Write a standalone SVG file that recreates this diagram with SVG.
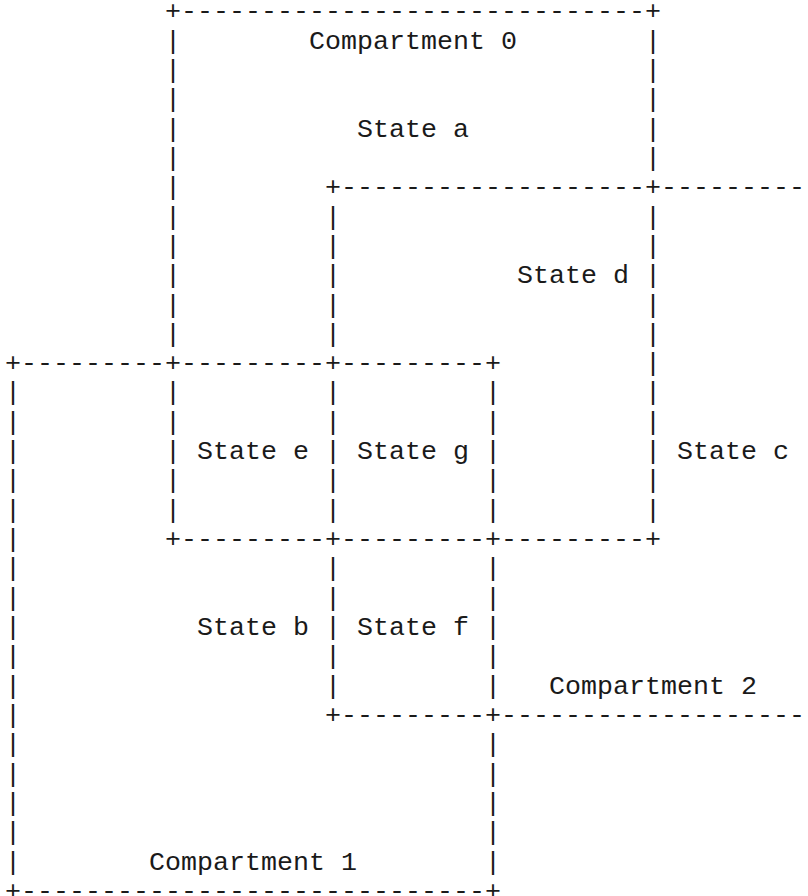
<svg xmlns="http://www.w3.org/2000/svg" width="808" height="896" viewBox="0 0 808 896">
<style>
text{font-family:"Liberation Mono","Courier New",monospace;font-size:26.67px;fill:#1a1a1a;white-space:pre}
</style>
<rect x="0" y="0" width="808" height="896" fill="#ffffff"/>
<g id="borders">
<text y="19.2"><tspan x="165">+---------</tspan><tspan x="325">----------</tspan><tspan x="485">----------</tspan><tspan x="645">+</tspan></text>
<text y="48.53"><tspan x="165">|</tspan><tspan x="645">|</tspan></text>
<text y="77.86"><tspan x="165">|</tspan><tspan x="645">|</tspan></text>
<text y="107.19"><tspan x="165">|</tspan><tspan x="645">|</tspan></text>
<text y="136.52"><tspan x="165">|</tspan><tspan x="645">|</tspan></text>
<text y="165.85"><tspan x="165">|</tspan><tspan x="645">|</tspan></text>
<text y="195.18"><tspan x="165">|</tspan><tspan x="325">+---------</tspan><tspan x="485">----------</tspan><tspan x="645">+---------</tspan><tspan x="805">-</tspan></text>
<text y="224.51"><tspan x="165">|</tspan><tspan x="325">|</tspan><tspan x="645">|</tspan></text>
<text y="253.84"><tspan x="165">|</tspan><tspan x="325">|</tspan><tspan x="645">|</tspan></text>
<text y="283.17"><tspan x="165">|</tspan><tspan x="325">|</tspan><tspan x="645">|</tspan></text>
<text y="312.5"><tspan x="165">|</tspan><tspan x="325">|</tspan><tspan x="645">|</tspan></text>
<text y="341.83"><tspan x="165">|</tspan><tspan x="325">|</tspan><tspan x="645">|</tspan></text>
<text y="371.16"><tspan x="5">+---------</tspan><tspan x="165">+---------</tspan><tspan x="325">+---------</tspan><tspan x="485">+</tspan><tspan x="645">|</tspan></text>
<text y="400.49"><tspan x="5">|</tspan><tspan x="165">|</tspan><tspan x="325">|</tspan><tspan x="485">|</tspan><tspan x="645">|</tspan></text>
<text y="429.82"><tspan x="5">|</tspan><tspan x="165">|</tspan><tspan x="325">|</tspan><tspan x="485">|</tspan><tspan x="645">|</tspan></text>
<text y="459.15"><tspan x="5">|</tspan><tspan x="165">|</tspan><tspan x="325">|</tspan><tspan x="485">|</tspan><tspan x="645">|</tspan></text>
<text y="488.48"><tspan x="5">|</tspan><tspan x="165">|</tspan><tspan x="325">|</tspan><tspan x="485">|</tspan><tspan x="645">|</tspan></text>
<text y="517.81"><tspan x="5">|</tspan><tspan x="165">|</tspan><tspan x="325">|</tspan><tspan x="485">|</tspan><tspan x="645">|</tspan></text>
<text y="547.14"><tspan x="5">|</tspan><tspan x="165">+---------</tspan><tspan x="325">+---------</tspan><tspan x="485">+---------</tspan><tspan x="645">+</tspan></text>
<text y="576.47"><tspan x="5">|</tspan><tspan x="325">|</tspan><tspan x="485">|</tspan></text>
<text y="605.8"><tspan x="5">|</tspan><tspan x="325">|</tspan><tspan x="485">|</tspan></text>
<text y="635.13"><tspan x="5">|</tspan><tspan x="325">|</tspan><tspan x="485">|</tspan></text>
<text y="664.46"><tspan x="5">|</tspan><tspan x="325">|</tspan><tspan x="485">|</tspan></text>
<text y="693.79"><tspan x="5">|</tspan><tspan x="325">|</tspan><tspan x="485">|</tspan></text>
<text y="723.12"><tspan x="5">|</tspan><tspan x="325">+---------</tspan><tspan x="485">+---------</tspan><tspan x="645">----------</tspan><tspan x="805">-</tspan></text>
<text y="752.45"><tspan x="5">|</tspan><tspan x="485">|</tspan></text>
<text y="781.78"><tspan x="5">|</tspan><tspan x="485">|</tspan></text>
<text y="811.11"><tspan x="5">|</tspan><tspan x="485">|</tspan></text>
<text y="840.44"><tspan x="5">|</tspan><tspan x="485">|</tspan></text>
<text y="869.77"><tspan x="5">|</tspan><tspan x="485">|</tspan></text>
<text y="899.1"><tspan x="5">+---------</tspan><tspan x="165">----------</tspan><tspan x="325">----------</tspan><tspan x="485">+</tspan></text>
</g>
<g id="labels">
<g id="compartment-0"><text x="309" y="48.53">Compartment 0</text></g>
<g id="state-a"><text x="357" y="136.52">State a</text></g>
<g id="state-d"><text x="517" y="283.17">State d</text></g>
<g id="state-e"><text x="197" y="459.15">State e</text></g>
<g id="state-g"><text x="357" y="459.15">State g</text></g>
<g id="state-c"><text x="677" y="459.15">State c</text></g>
<g id="state-b"><text x="197" y="635.13">State b</text></g>
<g id="state-f"><text x="357" y="635.13">State f</text></g>
<g id="compartment-2"><text x="549" y="693.79">Compartment 2</text></g>
<g id="compartment-1"><text x="149" y="869.77">Compartment 1</text></g>
</g>
</svg>
